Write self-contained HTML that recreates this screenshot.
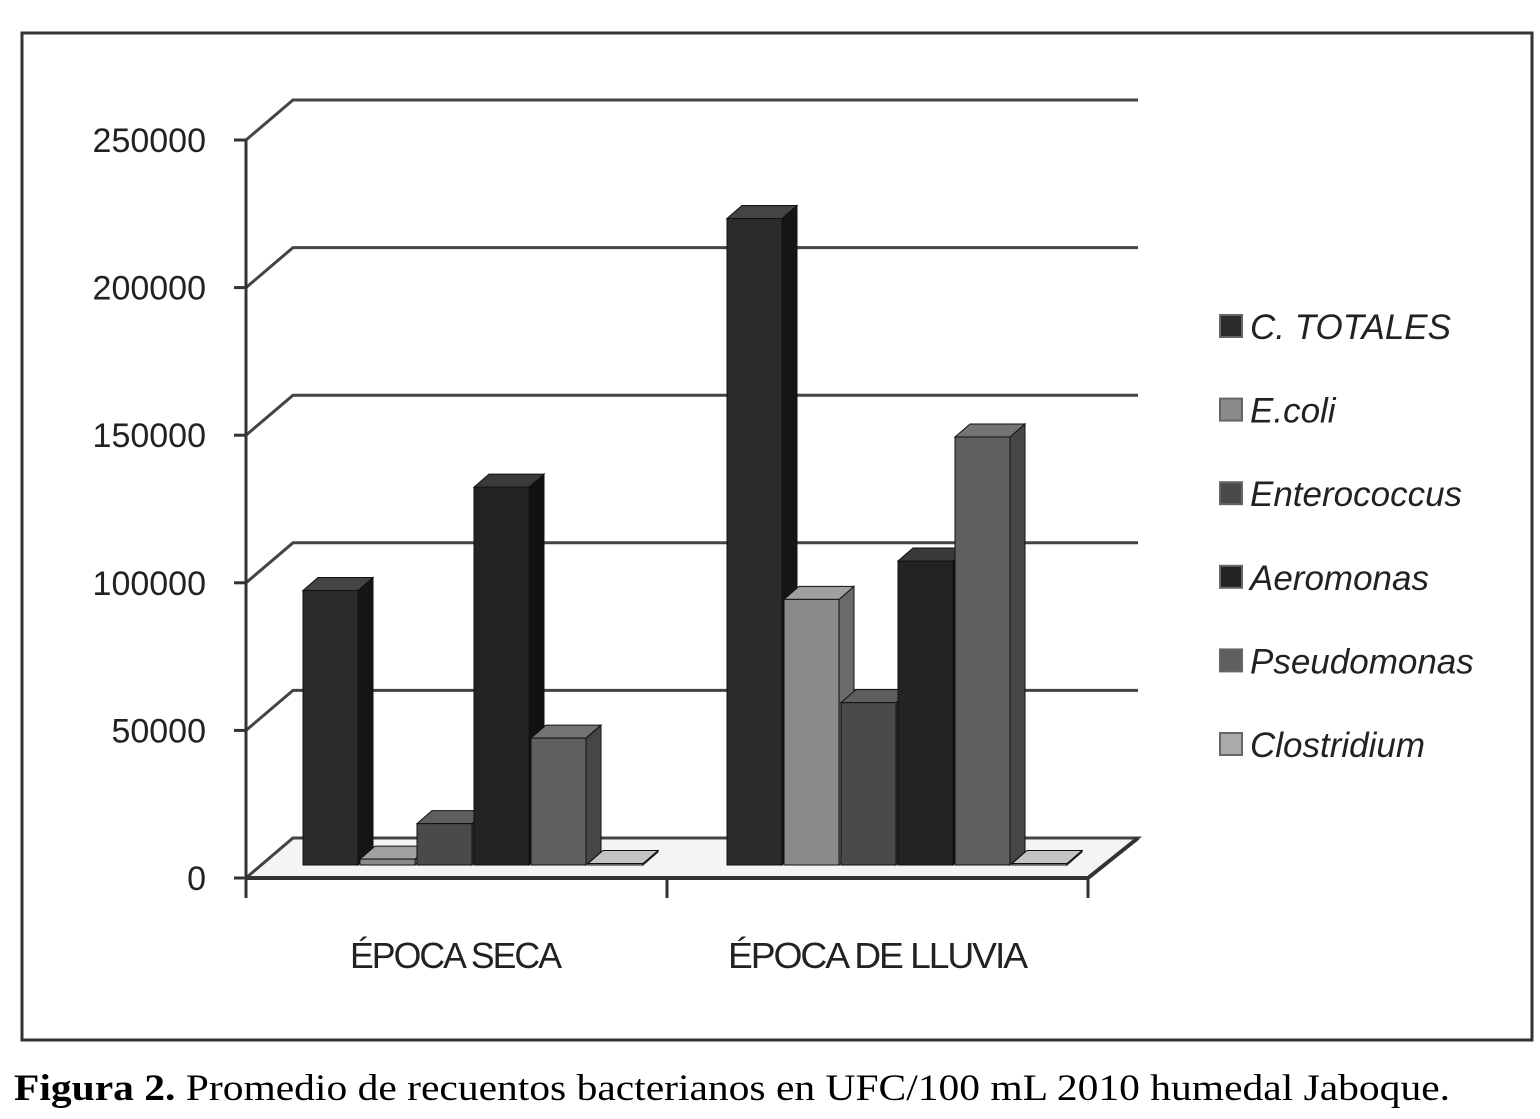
<!DOCTYPE html>
<html><head><meta charset="utf-8"><style>
body{margin:0;background:#fff;}
svg{display:block;}
</style></head><body>
<svg id="c" width="1540" height="1119" xmlns="http://www.w3.org/2000/svg">
<rect x="22" y="33" width="1510" height="1007" fill="#fff" stroke="#333" stroke-width="3"/>
<text x="14" y="1100" font-family="Liberation Serif, serif" font-size="37" fill="#000" textLength="1436" lengthAdjust="spacingAndGlyphs"><tspan font-weight="bold">Figura 2.</tspan> Promedio de recuentos bacterianos en UFC/100 mL 2010 humedal Jaboque.</text>
</svg>
<script>
const categories=["ÉPOCA SECA","ÉPOCA DE LLUVIA"];
const seriesNames=["C. TOTALES","E.coli","Enterococcus","Aeromonas","Pseudomonas","Clostridium"];
const seca=[93000,2000,14000,128000,43000,500];
const lluvia=[219000,90000,55000,103000,145000,500];
const ticks=[0,50000,100000,150000,200000,250000];
const values=[seca,lluvia];
const colors=[["#2b2b2b","#444","#151515"],["#8a8a8a","#a0a0a0","#6a6a6a"],["#4a4a4a","#5e5e5e","#333"],["#232323","#3a3a3a","#111"],["#5f5f5f","#747474","#464646"],["#aaa","#c4c4c4","#888"]];
const svg=document.getElementById('c');
const NS="http://www.w3.org/2000/svg";
function mk(t,a){const e=document.createElementNS(NS,t);for(const k in a)e.setAttribute(k,a[k]);svg.appendChild(e);return e;}
const X0=246,Y0=878,DX=47,DY=40,XR=1088,PX=147.6/50000;
function yv(v){return Y0-v*PX;}
ticks.forEach((t,i)=>{
 const y=yv(t);
 const g=mk('polyline',{points:`${X0},${y} ${X0+DX},${y-DY} ${XR+DX+3},${y-DY}`,fill:'none',stroke:'#444','stroke-width':3});
 
 
 const tk=mk('line',{x1:X0-12,y1:y,x2:X0,y2:y,stroke:'#333','stroke-width':3});
 
 
 const tx=mk('text',{x:206,y:y+12,'text-anchor':'end','font-family':'Liberation Sans, sans-serif','font-size':34,fill:'#222'});
 tx.textContent=t;
 
 
});
const fl=mk('polygon',{points:`${X0},${Y0} ${X0+DX},${Y0-DY} ${XR+DX+3},${Y0-DY} ${XR},${Y0}`,fill:'#f4f4f4',stroke:'#444','stroke-width':3});


const fe=mk('polyline',{points:`${X0},${Y0} ${XR},${Y0} ${XR+DX+3},${Y0-DY}`,fill:'none',stroke:'#333','stroke-width':4});


const ya=mk('line',{x1:X0,y1:yv(250000),x2:X0,y2:Y0,stroke:'#333','stroke-width':3});


[X0,(X0+XR)/2,XR].forEach(x=>{const l=mk('line',{x1:x,y1:Y0,x2:x,y2:Y0+20,stroke:'#333','stroke-width':3});
 
 });
const gw=(XR-X0)/2,bw=55,step=57,bd=15,bdy=13,base=865;
categories.forEach((c,ci)=>{
 const gx=X0+ci*gw+57+(ci==1?3:0);
 values[ci].forEach((v,si)=>{
  const x=gx+si*step, h=v*PX, yt=base-h, col=colors[si];
  const g=document.createElementNS(NS,'g');svg.appendChild(g);
  
  
  const add=(pts,f)=>{const p=document.createElementNS(NS,'polygon');p.setAttribute('points',pts);p.setAttribute('fill',f);p.setAttribute('stroke','#111');p.setAttribute('stroke-width','1');g.appendChild(p);};
  add(`${x+bw},${base} ${x+bw+bd},${base-bdy} ${x+bw+bd},${yt-bdy} ${x+bw},${yt}`,col[2]);
  add(`${x},${yt} ${x+bd},${yt-bdy} ${x+bw+bd},${yt-bdy} ${x+bw},${yt}`,col[1]);
  add(`${x},${base} ${x},${yt} ${x+bw},${yt} ${x+bw},${base}`,col[0]);
 });
 const t=mk('text',{x:ci==0?455:877,y:968,'text-anchor':'middle','font-family':'Liberation Sans, sans-serif','font-size':36,fill:'#222','letter-spacing':-2,textLength:ci==0?210:298,lengthAdjust:'spacingAndGlyphs'});
 t.textContent=c;
 
 
});
seriesNames.forEach((n,i)=>{
 const y=327+i*83.6;
 const r=mk('rect',{x:1220,y:y-12,width:22,height:22,fill:colors[i][0],stroke:'#666','stroke-width':2});
 
 
 const t=mk('text',{x:1250,y:y+12,'font-family':'Liberation Sans, sans-serif','font-size':35,'font-style':'italic',fill:'#222'});
 t.textContent=n;
 
 
});
</script>
</body></html>
